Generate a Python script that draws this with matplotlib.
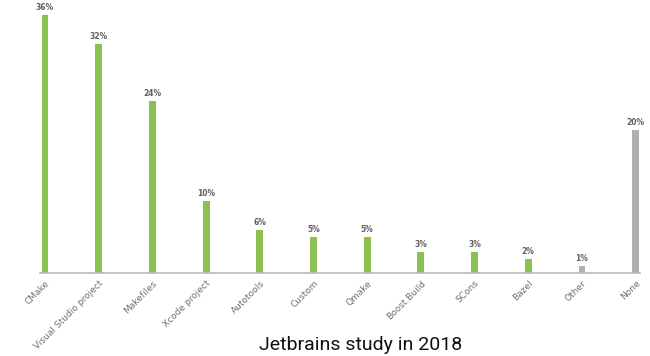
import numpy as np
from matplotlib import pyplot as plt

tools = ['CMake', 'Visual Studio project', 'Makefiles', 'Xcode project', 'Autotools',
         'Custom', 'Qmake', 'Boost.Build', 'SCons', 'Bazel', 'Other', 'None']
share = [36, 32, 24, 10, 6, 5, 5, 3, 3, 2, 1, 20]
colors = ['#8cc152'] * 10 + ['#b0b0b0', '#b0b0b0']

fig = plt.figure(figsize=(6.5, 3.56), dpi=100)
ax = fig.add_axes([40/650, 83/356, 600/650, 268/356])

x = np.arange(len(tools))
ax.bar(x, share, width=0.13, color=colors)

for i, v in enumerate(share):
    ax.text(x[i], v + 0.4, '%d%%' % v, ha='center', va='bottom',
            fontsize=5.5, fontweight='bold', color='#606060')

ax.set_xlim(-0.093, 11.08)
ax.set_ylim(0, 37.4)
ax.set_yticks([])
ax.set_xticks(x)
ax.set_xticklabels(tools, rotation=45, ha='right', rotation_mode='anchor',
                   fontsize=6.5, color='#707070')
ax.tick_params(axis='x', length=0, pad=4)
for s in ['top', 'right', 'left']:
    ax.spines[s].set_visible(False)
ax.spines['bottom'].set_color('#bbbbbb')
ax.spines['bottom'].set_linewidth(1.2)

fig.text(361/650, 1 - 345/356, 'Jetbrains study in 2018', ha='center', va='center',
         fontsize=14, family='Roboto', color='#111111')

fig.savefig('out.png', dpi=100)
